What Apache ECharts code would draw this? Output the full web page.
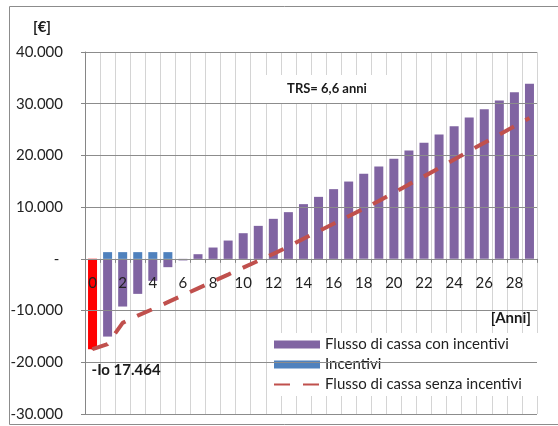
<!DOCTYPE html>
<html>
<head>
<meta charset="utf-8">
<script src="https://cdn.jsdelivr.net/npm/echarts@6/dist/echarts.min.js"></script>
<style>
  html, body { margin: 0; padding: 0; background: #fff; }
  #chart { width: 558px; height: 426px; }
</style>
</head>
<body>
<div id="chart"></div>
<script>
// Anni di esercizio dell'impianto
const anni = ['0','1','2','3','4','5','6','7','8','9','10','11','12','13','14','15','16','17','18','19','20','21','22','23','24','25','26','27','28','29'];

// Flusso di cassa cumulato con incentivi [€] (anno 0 = investimento iniziale)
const flussoConIncentivi = [-17464, -15030, -9220, -6770, -4250, -1610, -300, 900, 2190, 3540, 4960, 6380, 7740, 9030, 10580, 11990, 13480, 14950, 16440, 17850, 19340, 20950, 22430, 24040, 25660, 27330, 28950, 30620, 32240, 33850];

// Incentivi annui [€] (primi 5 anni)
const incentivi = [null, 1300, 1300, 1300, 1300, 1300, null, null, null, null, null, null, null, null, null, null, null, null, null, null, null, null, null, null, null, null, null, null, null, null];

// Flusso di cassa cumulato senza incentivi [€]
const flussoSenzaIncentivi = [-17464, -16480, -12380, -10980, -9710, -8370, -7040, -5700, -4370, -3040, -1700, -370, 970, 2350, 3900, 5350, 6800, 8250, 9700, 11200, 12800, 14400, 15950, 17550, 19200, 20850, 22450, 24050, 25650, 27250];

// Tacche dell'asse verticale
const yMin = -30000, yMax = 40000, yStep = 10000;

const nomiSerie = ['Flusso di cassa con incentivi', 'Incentivi', 'Flusso di cassa senza incentivi'];
const FONT = 'Lato';
const ROSSO_LINEA = '#C0504D';

function formatEuro(v) {
  if (v === 0) return '-\u2009\u2009';
  const s = Math.abs(v).toString().replace(/\B(?=(\d{3})+(?!\d))/g, '.');
  return (v < 0 ? '-' : '') + s;
}

// Year 0 is the initial investment, drawn in red
const datiConIncentivi = flussoConIncentivi.map((v, i) => i === 0 ? { value: v, itemStyle: { color: '#FF0000' } } : v);

// The initial investment is annotated at the start of the cash-flow line
const datiSenzaIncentivi = flussoSenzaIncentivi.map((v, i) => i === 0 ? {
  value: v,
  symbol: 'circle',
  symbolSize: 2,
  itemStyle: { color: ROSSO_LINEA },
  label: {
    show: true,
    position: 'bottom',
    distance: 12,
    align: 'left',
    offset: [-1, 0],
    formatter: (p) => '-Io ' + formatEuro(-p.value),
    fontFamily: FONT,
    fontWeight: 'bold',
    fontSize: 15,
    color: '#1a1a1a'
  }
} : v);

const GRID = { left: 85, right: 21, top: 52, bottom: 12 };

// Drawing order: bars < category axis (labels, vertical grid) < legend box < value grid < dashed line
const Z = { bars: 2, xAxis: 3, legend: 4, yAxis: 5, line: 6, text: 7 };

const chart = echarts.init(document.getElementById('chart'), null, { renderer: 'canvas' });

const option = {
  animation: false,
  backgroundColor: '#fff',
  textStyle: { fontFamily: FONT },
  grid: Object.assign({ outerBoundsMode: 'none', containLabel: false }, GRID),
  legend: {
    z: Z.legend,
    orient: 'vertical',
    left: 269,
    top: 333,
    padding: [4, 26, 4, 4],
    backgroundColor: '#fff',
    itemWidth: 46,
    itemHeight: 8,
    itemGap: 5,
    data: [
      { name: nomiSerie[0], icon: 'rect' },
      { name: nomiSerie[1], icon: 'rect' },
      { name: nomiSerie[2], itemStyle: { opacity: 0 } }
    ],
    textStyle: { fontFamily: FONT, fontSize: 15, color: '#222', lineHeight: 15 }
  },
  xAxis: {
    type: 'category',
    z: Z.xAxis,
    data: anni,
    axisLine: { onZero: true, lineStyle: { color: '#868686', width: 1 } },
    axisTick: { show: true, interval: 0, length: 4, lineStyle: { color: '#868686' } },
    axisLabel: { interval: 1, margin: 17, fontFamily: FONT, fontSize: 15, color: '#222' },
    splitLine: { show: true, interval: 0, lineStyle: { color: '#d4d4d4', width: 1 } }
  },
  yAxis: {
    type: 'value',
    z: Z.yAxis,
    min: yMin,
    max: yMax,
    interval: yStep,
    axisLine: { show: true, lineStyle: { color: '#868686', width: 1 } },
    axisTick: { show: true, length: 4, lineStyle: { color: '#868686' } },
    axisLabel: { margin: 22, fontFamily: FONT, fontSize: 15, color: '#222', formatter: formatEuro },
    splitLine: { show: true, lineStyle: { color: '#8c8c8c', width: 1 } }
  },
  series: [
    {
      name: nomiSerie[0],
      type: 'bar',
      z: Z.bars,
      barWidth: 9,
      barGap: '-100%',
      itemStyle: { color: '#8064A2' },
      data: datiConIncentivi
    },
    {
      name: nomiSerie[1],
      type: 'bar',
      z: Z.bars,
      barWidth: 9,
      barGap: '-100%',
      itemStyle: { color: '#4F81BD' },
      data: incentivi
    },
    {
      name: nomiSerie[2],
      type: 'line',
      z: Z.line,
      symbol: 'none',
      itemStyle: { color: ROSSO_LINEA },
      lineStyle: { color: ROSSO_LINEA, width: 4, type: [16, 13] },
      data: datiSenzaIncentivi
    }
  ],
  graphic: {
    elements: [
      {
        type: 'rect', silent: true, z: 0,
        shape: { x: 9.5, y: 6.5, width: 560, height: 418 },
        style: { fill: 'none', stroke: '#8c8c8c', lineWidth: 1 }
      },
      {
        type: 'rect', silent: true, z: Z.legend,
        shape: { x: 261, y: 75, width: 137, height: 28 },
        style: { fill: '#fff' }
      },
      {
        type: 'text', silent: true, z: Z.text,
        x: 327, y: 89,
        style: { text: 'TRS= 6,6 anni', font: 'bold 13px Lato', fill: '#1a1a1a', align: 'center', verticalAlign: 'middle' }
      },
      {
        type: 'text', silent: true, z: Z.text,
        x: 42, y: 27,
        style: { text: '[€]', font: 'bold 15px Lato', fill: '#1a1a1a', align: 'center', verticalAlign: 'middle' }
      },
      {
        type: 'text', silent: true, z: Z.text,
        x: 531, y: 318,
        style: { text: '[Anni]', font: 'bold 15px Lato', fill: '#1a1a1a', align: 'right', verticalAlign: 'middle' }
      }
    ]
  }
};

chart.setOption(option);

// Keep the category labels and ticks attached to the zero line of the value axis
const yZero = chart.convertToPixel({ yAxisIndex: 0 }, 0);
const gridBottomY = 426 - GRID.bottom;
chart.setOption({ xAxis: { offset: yZero - gridBottomY, axisLine: { onZero: false } } });
</script>
</body>
</html>
